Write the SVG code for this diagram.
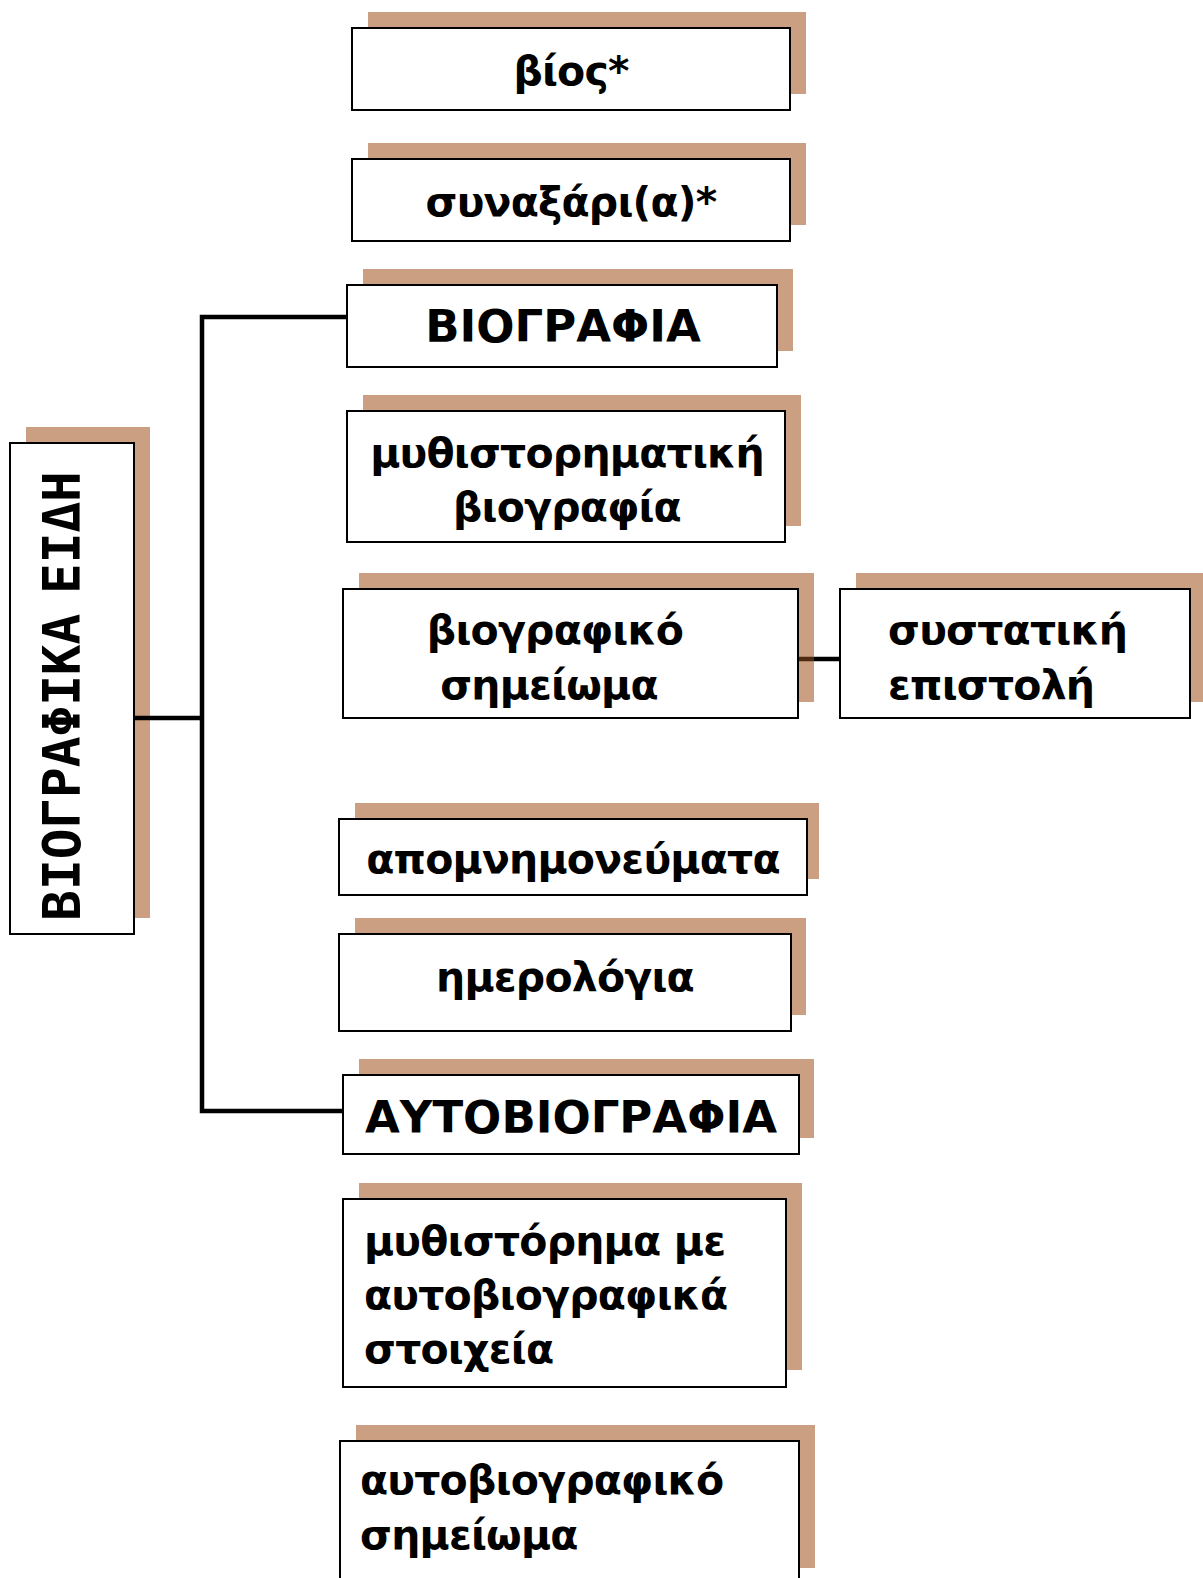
<svg xmlns="http://www.w3.org/2000/svg" width="1203" height="1578" viewBox="0 0 1203 1578">
<style>
.sh{fill:#cba082}
.bx{fill:#fff;stroke:#000;stroke-width:2}
.t{font-family:"DejaVu Sans","Verdana",sans-serif;font-weight:bold;font-size:41px;letter-spacing:-0.8px;fill:#000}
.u{font-family:"DejaVu Sans","Verdana",sans-serif;font-weight:bold;font-size:45px;fill:#000;text-anchor:middle}
.c{text-anchor:middle}
.v{font-family:"DejaVu Sans Mono","Liberation Mono",monospace;font-weight:bold;font-size:51px;word-spacing:-11px;fill:#000;text-anchor:middle}
.ln{stroke:#000;stroke-width:4.5;fill:none}
</style>
<rect width="1203" height="1578" fill="#fff"/>
<g id="node-viografika-eidi">
<rect class="sh" x="26" y="427" width="124" height="491"/>
<rect class="bx" x="10" y="443" width="124" height="491"/>
<text class="v" transform="translate(80,696) rotate(-90)">ΒΙΟΓΡΑΦΙΚΑ ΕΙΔΗ</text>
</g>
<g id="node-vios">
<rect class="sh" x="368" y="12" width="438" height="82"/>
<rect class="bx" x="352" y="28" width="438" height="82"/>
<text class="t c" x="571" y="85">βίος*</text>
</g>
<g id="node-synaxari">
<rect class="sh" x="368" y="143" width="438" height="82"/>
<rect class="bx" x="352" y="159" width="438" height="82"/>
<text class="t c" x="571" y="216">συναξάρι(α)*</text>
</g>
<g id="node-viografia">
<rect class="sh" x="363" y="269" width="430" height="82"/>
<rect class="bx" x="347" y="285" width="430" height="82"/>
<text class="u" x="563" y="342">ΒΙΟΓΡΑΦΙΑ</text>
</g>
<g id="node-mythistorimatiki">
<rect class="sh" x="363" y="395" width="438" height="131"/>
<rect class="bx" x="347" y="411" width="438" height="131"/>
<text class="t c" x="567" y="467">μυθιστορηματική</text>
<text class="t c" x="567" y="521">βιογραφία</text>
</g>
<g id="node-viografiko-simeioma">
<rect class="sh" x="359" y="573" width="455" height="129"/>
<rect class="bx" x="343" y="589" width="455" height="129"/>
<text class="t c" x="555" y="644">βιογραφικό</text>
<text class="t c" x="549" y="699">σημείωμα</text>
</g>
<g id="node-systatiki">
<rect class="sh" x="856" y="573" width="350" height="129"/>
<rect class="bx" x="840" y="589" width="350" height="129"/>
<text class="t" x="888" y="644">συστατική</text>
<text class="t" x="888" y="699">επιστολή</text>
</g>
<g id="node-apomnimonevmata">
<rect class="sh" x="355" y="803" width="464" height="76"/>
<rect class="bx" x="339" y="819" width="468" height="76"/>
<text class="t c" x="573" y="873">απομνημονεύματα</text>
</g>
<g id="node-imerologia">
<rect class="sh" x="355" y="918" width="451" height="97"/>
<rect class="bx" x="339" y="934" width="452" height="97"/>
<text class="t c" x="565" y="991">ημερολόγια</text>
</g>
<g id="node-aftoviografia">
<rect class="sh" x="359" y="1059" width="455" height="79"/>
<rect class="bx" x="343" y="1075" width="456" height="79"/>
<text class="u" x="571" y="1133">ΑΥΤΟΒΙΟΓΡΑΦΙΑ</text>
</g>
<g id="node-mythistorima">
<rect class="sh" x="359" y="1183" width="443" height="187"/>
<rect class="bx" x="343" y="1199" width="443" height="188"/>
<text class="t" x="364" y="1255">μυθιστόρημα με</text>
<text class="t" x="364" y="1309">αυτοβιογραφικά</text>
<text class="t" x="364" y="1363">στοιχεία</text>
</g>
<g id="node-aftoviografiko">
<rect class="sh" x="356" y="1425" width="459" height="143"/>
<rect class="bx" x="340" y="1441" width="459" height="143"/>
<text class="t" x="360" y="1494">αυτοβιογραφικό</text>
<text class="t" x="360" y="1549">σημείωμα</text>
</g>
<g id="connectors">
<polyline class="ln" points="134,718 202,718"/>
<polyline class="ln" points="347,317 202,317 202,1111 343,1111"/>
<line class="ln" x1="814" y1="659" x2="840" y2="659"/>
<line x1="799" y1="659" x2="814" y2="659" stroke="#4d2a10" stroke-width="4.5"/>
</g>
</svg>
